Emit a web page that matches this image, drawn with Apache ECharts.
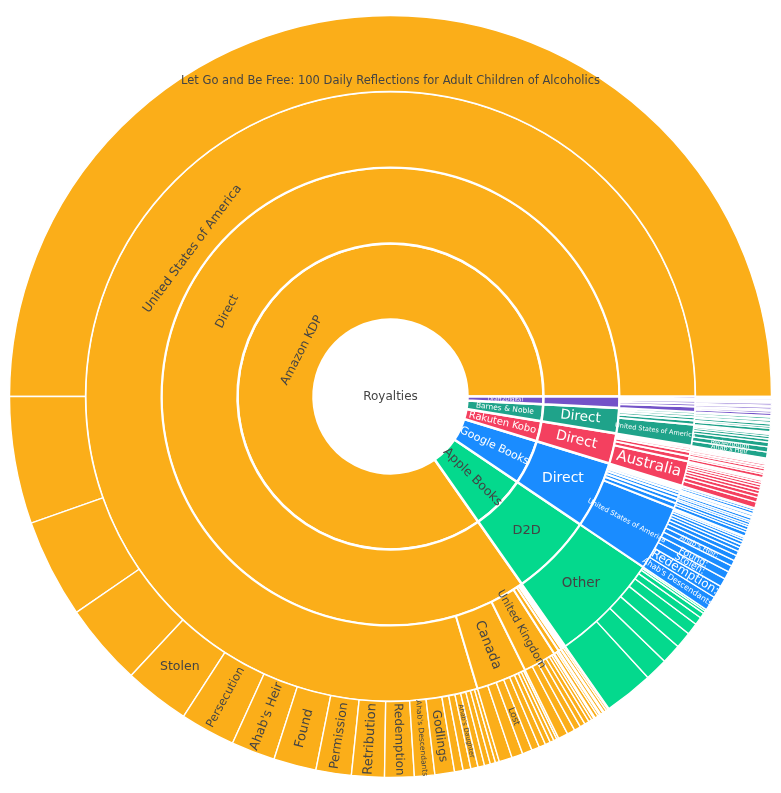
<!DOCTYPE html>
<html>
<head>
<meta charset="utf-8">
<script src="https://cdn.jsdelivr.net/npm/echarts@6/dist/echarts.min.js"></script>
<style>
html,body{margin:0;padding:0;background:#fff;}
#chart{width:781px;height:793px;}
</style>
</head>
<body>
<div id="chart"></div>
<script>
// ---------------- DATA ----------------
const ROOT_NAME = 'Royalties';
const LET_GO = 'Let Go and Be Free: 100 Daily Reflections for Adult Children of Alcoholics';

const STORES = ['Amazon KDP', 'Apple Books', 'Google Books', 'Rakuten Kobo', 'Barnes & Noble', 'Draft2Digital'];
const CHANNELS = ['Direct', 'D2D', 'Direct', 'Direct', 'Direct', 'Direct'];

// Amazon KDP / Direct
const KDP_COUNTRIES = ['United States of America', 'Canada', 'United Kingdom', 'Australia', 'Germany', 'India', 'France', 'Spain'];
const KDP_USA_TITLES = [LET_GO, 'Box Set: Books 1-3', 'Box Set: Books 4-6', 'Box Set: Books 7-9', 'Stolen', 'Persecution', "Ahab's Heir", 'Found', 'Permission', 'Retribution', 'Redemption', "Ahab's Descendants", 'Godlings', 'Lost', 'Other title 1', "Ahab's Daughter", 'Other title 2', 'Other title 3', 'Other title 4', 'Other title 5'];
const KDP_USA_VALUES = [180, 19.4, 15.1, 12.6, 10.0, 8.4, 6.7, 6.5, 5.4, 5.0, 4.5, 3.1, 3.0, 1.3, 1.2, 1.1, 1.0, 0.9, 0.8, 0.6];
const KDP_CAN_TITLES = [LET_GO, 'Stolen', 'Lost', 'Persecution', "Ahab's Heir", 'Found', 'Permission', 'Retribution', 'Redemption'];
const KDP_CAN_VALUES = [2.0, 1.7, 1.5, 1.2, 1.0, 0.8, 0.6, 0.5, 0.3];
const KDP_UK_TITLES = [LET_GO, 'Stolen', 'Persecution', "Ahab's Heir", 'Found', 'Permission', 'Retribution', 'Redemption'];
const KDP_UK_VALUES = [1.5, 1.2, 1.0, 0.8, 0.7, 0.5, 0.4, 0.2];
const KDP_AUS_TITLES = [LET_GO, 'Stolen', 'Found'];
const KDP_AUS_VALUES = [0.5, 0.3, 0.2];
const KDP_GER_TITLES = [LET_GO, 'Stolen'];
const KDP_GER_VALUES = [0.4, 0.2];
const KDP_IND_TITLES = [LET_GO];
const KDP_IND_VALUES = [0.4];
const KDP_FRA_TITLES = [LET_GO];
const KDP_FRA_VALUES = [0.3];
const KDP_ESP_TITLES = [LET_GO];
const KDP_ESP_VALUES = [0.2];

// Apple Books / D2D
const APPLE_COUNTRIES = ['Other'];
const APPLE_OTHER_TITLES = [LET_GO, 'Stolen', 'Persecution', "Ahab's Heir", 'Found', 'Permission', 'Retribution', 'Redemption', 'Godlings'];
const APPLE_OTHER_VALUES = [7.5, 3.5, 3.0, 2.5, 1.8, 1.2, 0.8, 0.4, 0.3];

// Google Books / Direct
const GOOGLE_COUNTRIES = ['United States of America', 'South Africa', 'Australia', 'Canada', 'United Kingdom', 'Germany', 'India', 'France', 'Brazil'];
const GOOGLE_USA_TITLES = ["Ahab's Descendants:", 'Redemption:', 'Stolen:', 'Found:', 'Persecution:', "Ahab's Heir:", 'Permission:', 'Retribution:', 'Godlings:', 'Lost:', "Ahab's Daughter:", LET_GO, 'Box Set: Books 1-3', 'Box Set: Books 4-6'];
const GOOGLE_USA_VALUES = [2.2, 1.9, 1.3, 1.2, 1.0, 0.9, 0.8, 0.7, 0.6, 0.5, 0.5, 0.4, 0.3, 0.2];
const GOOGLE_ZAF_TITLES = ['Stolen:', 'Found:'];
const GOOGLE_ZAF_VALUES = [0.6, 0.4];
const GOOGLE_AUS_TITLES = ['Stolen:', 'Found:'];
const GOOGLE_AUS_VALUES = [0.5, 0.3];
const GOOGLE_CAN_TITLES = ['Stolen:', 'Found:'];
const GOOGLE_CAN_VALUES = [0.4, 0.3];
const GOOGLE_UK_TITLES = ['Stolen:', 'Found:'];
const GOOGLE_UK_VALUES = [0.4, 0.2];
const GOOGLE_GER_TITLES = ['Stolen:', 'Found:'];
const GOOGLE_GER_VALUES = [0.3, 0.2];
const GOOGLE_IND_TITLES = ['Stolen:'];
const GOOGLE_IND_VALUES = [0.4];
const GOOGLE_FRA_TITLES = ['Stolen:'];
const GOOGLE_FRA_VALUES = [0.3];
const GOOGLE_BRA_TITLES = ['Stolen:'];
const GOOGLE_BRA_VALUES = [0.2];

// Rakuten Kobo / Direct
const KOBO_COUNTRIES = ['Australia', 'United States of America', 'Canada', 'United Kingdom', 'New Zealand', 'Ireland'];
const KOBO_AUS_TITLES = [LET_GO, 'Stolen', 'Persecution', "Ahab's Heir", 'Found', 'Permission', 'Retribution', 'Redemption', 'Godlings', 'Lost'];
const KOBO_AUS_VALUES = [0.9, 0.7, 0.6, 0.5, 0.5, 0.4, 0.4, 0.3, 0.2, 0.2];
const KOBO_USA_TITLES = [LET_GO, 'Stolen', 'Found'];
const KOBO_USA_VALUES = [0.5, 0.3, 0.2];
const KOBO_CAN_TITLES = [LET_GO, 'Stolen', 'Found'];
const KOBO_CAN_VALUES = [0.4, 0.3, 0.1];
const KOBO_UK_TITLES = [LET_GO, 'Stolen'];
const KOBO_UK_VALUES = [0.3, 0.2];
const KOBO_NZL_TITLES = [LET_GO, 'Stolen'];
const KOBO_NZL_VALUES = [0.2, 0.2];
const KOBO_IRL_TITLES = [LET_GO, 'Stolen'];
const KOBO_IRL_VALUES = [0.2, 0.1];

// Barnes & Noble / Direct
const BN_COUNTRIES = ['United States of America', 'Canada', 'United Kingdom', 'Australia', 'Germany'];
const BN_USA_TITLES = ["Ahab's Heir", 'Redemption', LET_GO, 'Stolen', 'Found', 'Persecution', 'Permission', 'Retribution'];
const BN_USA_VALUES = [0.9, 0.8, 0.7, 0.5, 0.4, 0.3, 0.2, 0.2];
const BN_CAN_TITLES = [LET_GO, 'Stolen'];
const BN_CAN_VALUES = [0.5, 0.3];
const BN_UK_TITLES = [LET_GO, 'Stolen'];
const BN_UK_VALUES = [0.4, 0.2];
const BN_AUS_TITLES = [LET_GO, 'Stolen'];
const BN_AUS_VALUES = [0.3, 0.2];
const BN_GER_TITLES = [LET_GO, 'Stolen'];
const BN_GER_VALUES = [0.3, 0.2];

// Draft2Digital / Direct
const D2D_COUNTRIES = ['United States of America', 'United Kingdom', 'Canada', 'Australia', 'Germany'];
const D2D_USA_TITLES = [LET_GO, 'Stolen', 'Found', 'Lost'];
const D2D_USA_VALUES = [0.4, 0.3, 0.2, 0.1];
const D2D_UK_TITLES = [LET_GO, 'Stolen', 'Found'];
const D2D_UK_VALUES = [0.3, 0.2, 0.1];
const D2D_CAN_TITLES = [LET_GO, 'Stolen'];
const D2D_CAN_VALUES = [0.3, 0.2];
const D2D_AUS_TITLES = [LET_GO, 'Stolen'];
const D2D_AUS_VALUES = [0.2, 0.2];
const D2D_GER_TITLES = [LET_GO, 'Stolen'];
const D2D_GER_VALUES = [0.2, 0.2];

const STORE_BRANCHES = [
  [KDP_COUNTRIES, [[KDP_USA_TITLES, KDP_USA_VALUES], [KDP_CAN_TITLES, KDP_CAN_VALUES], [KDP_UK_TITLES, KDP_UK_VALUES], [KDP_AUS_TITLES, KDP_AUS_VALUES], [KDP_GER_TITLES, KDP_GER_VALUES], [KDP_IND_TITLES, KDP_IND_VALUES], [KDP_FRA_TITLES, KDP_FRA_VALUES], [KDP_ESP_TITLES, KDP_ESP_VALUES]]],
  [APPLE_COUNTRIES, [[APPLE_OTHER_TITLES, APPLE_OTHER_VALUES]]],
  [GOOGLE_COUNTRIES, [[GOOGLE_USA_TITLES, GOOGLE_USA_VALUES], [GOOGLE_ZAF_TITLES, GOOGLE_ZAF_VALUES], [GOOGLE_AUS_TITLES, GOOGLE_AUS_VALUES], [GOOGLE_CAN_TITLES, GOOGLE_CAN_VALUES], [GOOGLE_UK_TITLES, GOOGLE_UK_VALUES], [GOOGLE_GER_TITLES, GOOGLE_GER_VALUES], [GOOGLE_IND_TITLES, GOOGLE_IND_VALUES], [GOOGLE_FRA_TITLES, GOOGLE_FRA_VALUES], [GOOGLE_BRA_TITLES, GOOGLE_BRA_VALUES]]],
  [KOBO_COUNTRIES, [[KOBO_AUS_TITLES, KOBO_AUS_VALUES], [KOBO_USA_TITLES, KOBO_USA_VALUES], [KOBO_CAN_TITLES, KOBO_CAN_VALUES], [KOBO_UK_TITLES, KOBO_UK_VALUES], [KOBO_NZL_TITLES, KOBO_NZL_VALUES], [KOBO_IRL_TITLES, KOBO_IRL_VALUES]]],
  [BN_COUNTRIES, [[BN_USA_TITLES, BN_USA_VALUES], [BN_CAN_TITLES, BN_CAN_VALUES], [BN_UK_TITLES, BN_UK_VALUES], [BN_AUS_TITLES, BN_AUS_VALUES], [BN_GER_TITLES, BN_GER_VALUES]]],
  [D2D_COUNTRIES, [[D2D_USA_TITLES, D2D_USA_VALUES], [D2D_UK_TITLES, D2D_UK_VALUES], [D2D_CAN_TITLES, D2D_CAN_VALUES], [D2D_AUS_TITLES, D2D_AUS_VALUES], [D2D_GER_TITLES, D2D_GER_VALUES]]]
];

// ---------------- STYLES ----------------
const STORE_COLORS = ['#FBAE19', '#04D98D', '#1A8CFF', '#F4405F', '#1FA38A', '#7352C8'];
const STORE_TEXT = ['#444444', '#444444', '#ffffff', '#ffffff', '#ffffff', '#ffffff'];
const FONT = 'Verdana, "DejaVu Sans", sans-serif';

// label that is pushed toward the centre (text-local "down") by `shift` px
function shifted(text, size, color, shift, rotate) {
  return {
    rotate: rotate,
    formatter: '{g| }\n{t|' + text + '}',
    rich: {
      g: {height: shift * 2, lineHeight: shift * 2, fontSize: 6},
      t: {fontSize: size, lineHeight: Math.round(size * 1.25), color: color, fontFamily: FONT}
    }
  };
}

// label styles keyed by node path
const LABELS = {
  'Royalties': {fontSize: 12, rotate: 0, color: '#444', formatter: '{pad|}{t|Royalties}', rich: {pad: {width: 77}, t: {fontSize: 12, color: '#444', fontFamily: FONT}}},
  'Amazon KDP': shifted('Amazon KDP', 12, '#444', 15, 'tangential'),
  'Amazon KDP/Direct': shifted('Direct', 12, '#444', 7, 'tangential'),
  'Amazon KDP/Direct/United States of America': shifted('United States of America', 12.5, '#444', 20, 'tangential'),
  ['Amazon KDP/Direct/United States of America/' + LET_GO]: shifted(LET_GO, 11.5, '#444', 28, 0),
  'Amazon KDP/Direct/United States of America/Stolen': {fontSize: 12.5, rotate: 0},
  'Amazon KDP/Direct/United States of America/Persecution': {fontSize: 11.5},
  "Amazon KDP/Direct/United States of America/Ahab's Heir": {fontSize: 12.5},
  'Amazon KDP/Direct/United States of America/Found': {fontSize: 13},
  'Amazon KDP/Direct/United States of America/Permission': {fontSize: 12.5},
  'Amazon KDP/Direct/United States of America/Retribution': {fontSize: 13},
  'Amazon KDP/Direct/United States of America/Redemption': {fontSize: 12},
  "Amazon KDP/Direct/United States of America/Ahab's Descendants": {fontSize: 7.5},
  'Amazon KDP/Direct/United States of America/Godlings': {fontSize: 12},
  "Amazon KDP/Direct/United States of America/Ahab's Daughter": {fontSize: 6.5},
  'Amazon KDP/Direct/Canada': {fontSize: 13.5},
  'Amazon KDP/Direct/Canada/Lost': {fontSize: 9},
  'Amazon KDP/Direct/United Kingdom': {fontSize: 11},
  'Apple Books': {fontSize: 12.5},
  'Apple Books/D2D': {fontSize: 13, rotate: 0},
  'Apple Books/D2D/Other': {fontSize: 13.5, rotate: 0},
  'Google Books': {fontSize: 11},
  'Google Books/Direct': {fontSize: 14, rotate: 0},
  'Google Books/Direct/United States of America': {fontSize: 7},
  "Google Books/Direct/United States of America/Ahab's Descendants:": {fontSize: 8},
  'Google Books/Direct/United States of America/Redemption:': {fontSize: 12},
  'Google Books/Direct/United States of America/Stolen:': {fontSize: 9.5},
  'Google Books/Direct/United States of America/Found:': {fontSize: 9.5},
  "Google Books/Direct/United States of America/Ahab's Heir:": {fontSize: 7},
  'Rakuten Kobo': {fontSize: 10},
  'Rakuten Kobo/Direct': {fontSize: 14},
  'Rakuten Kobo/Direct/Australia': {fontSize: 15},
  'Barnes & Noble': {fontSize: 7.5},
  'Barnes & Noble/Direct': {fontSize: 13.5},
  'Barnes & Noble/Direct/United States of America': {fontSize: 6.5},
  "Barnes & Noble/Direct/United States of America/Ahab's Heir": {fontSize: 6.5},
  'Barnes & Noble/Direct/United States of America/Redemption': {fontSize: 6.5},
  'Draft2Digital': {fontSize: 5.5}
};

function applyLabel(node, key, textColor) {
  const s = LABELS[key];
  if (s) {
    node.label = Object.assign({show: true, color: textColor, fontFamily: FONT, rotate: 'radial'}, s);
  }
  return node;
}

function buildData() {
  const storeNodes = STORES.map(function (store, si) {
    const tc = STORE_TEXT[si];
    const col = {color: STORE_COLORS[si]};
    const countries = STORE_BRANCHES[si][0];
    const leaves = STORE_BRANCHES[si][1];
    const chPath = store + '/' + CHANNELS[si];
    const countryNodes = countries.map(function (country, ci) {
      const cPath = chPath + '/' + country;
      const titles = leaves[ci][0];
      const values = leaves[ci][1];
      const titleNodes = titles.map(function (t, ti) {
        return applyLabel({name: t, value: values[ti], itemStyle: col}, cPath + '/' + t, tc);
      });
      return applyLabel({name: country, itemStyle: col, children: titleNodes}, cPath, tc);
    });
    const channelNode = applyLabel({name: CHANNELS[si], itemStyle: col, children: countryNodes}, chPath, tc);
    return applyLabel({name: store, itemStyle: col, children: [channelNode]}, store, tc);
  });
  return [applyLabel({name: ROOT_NAME, itemStyle: {color: '#ffffff'}, children: storeNodes}, ROOT_NAME, '#444')];
}

const chart = echarts.init(document.getElementById('chart'), null, {renderer: 'canvas'});
chart.setOption({
  animation: false,
  backgroundColor: '#ffffff',
  series: [{
    type: 'sunburst',
    center: ['50%', '50%'],
    radius: [0, 381],
    startAngle: 0,
    clockwise: false,
    sort: null,
    nodeClick: false,
    emphasis: {focus: 'none'},
    data: buildData(),
    itemStyle: {borderColor: '#ffffff', borderWidth: 2},
    label: {show: false, fontFamily: FONT, rotate: 'radial'},
    levels: [
      {},
      {r0: 0, r: 77, itemStyle: {borderWidth: 0}},
      {r0: 77, r: 153, itemStyle: {borderColor: '#ffffff', borderWidth: 2.5}},
      {r0: 153, r: 229, itemStyle: {borderColor: '#ffffff', borderWidth: 2.5}},
      {r0: 229, r: 305, itemStyle: {borderColor: '#ffffff', borderWidth: 2}},
      {r0: 305, r: 381, itemStyle: {borderColor: '#ffffff', borderWidth: 1.4}}
    ]
  }]
});
</script>
</body>
</html>
